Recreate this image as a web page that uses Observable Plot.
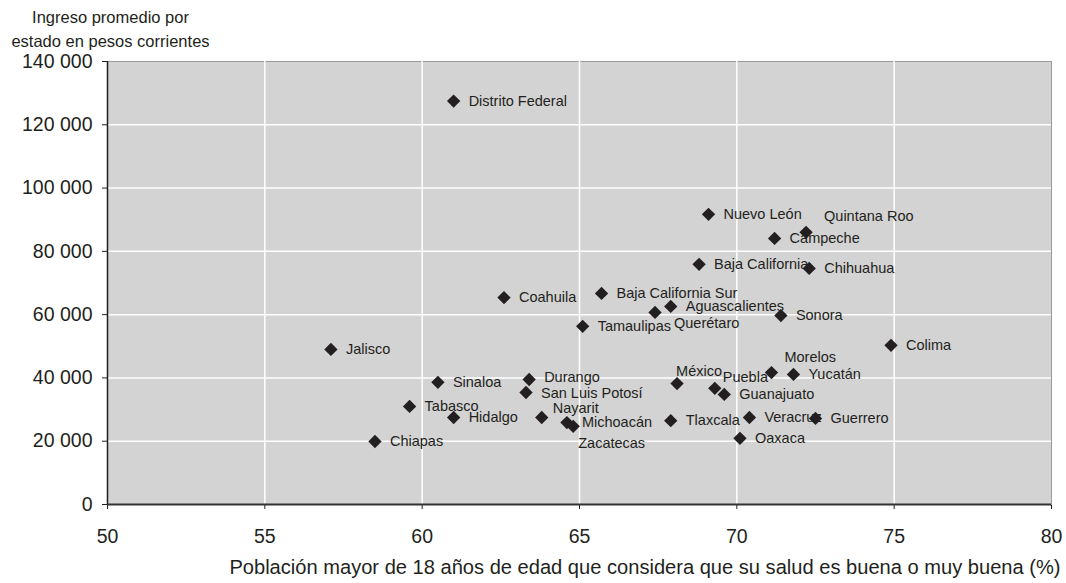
<!DOCTYPE html>
<html>
<head>
<meta charset="utf-8">
<script src="https://cdn.jsdelivr.net/npm/d3@7"></script>
<script src="https://cdn.jsdelivr.net/npm/@observablehq/plot@0.6"></script>
<style>
  html, body { margin: 0; padding: 0; background: white; }
</style>
</head>
<body>
<div id="chart"></div>
<script>
const states = ["Distrito Federal","Nuevo León","Quintana Roo","Campeche","Baja California","Chihuahua","Baja California Sur","Coahuila","Aguascalientes","Querétaro","Sonora","Tamaulipas","Jalisco","Colima","Morelos","Yucatán","México","Puebla","Guanajuato","Veracruz","Guerrero","Tlaxcala","Oaxaca","Sinaloa","Durango","San Luis Potosí","Tabasco","Hidalgo","Nayarit","Michoacán","Zacatecas","Chiapas"];
const salud = [61.0,69.1,72.2,71.2,68.8,72.3,65.7,62.6,67.9,67.4,71.4,65.1,57.1,74.9,71.1,71.8,68.1,69.3,69.6,70.4,72.5,67.9,70.1,60.5,63.4,63.3,59.6,61.0,63.8,64.6,64.8,58.5];
const ingreso = [127500,91700,86000,84100,75900,74600,66700,65400,62600,60700,59700,56300,49000,50300,41700,41100,38200,36700,34800,27500,27200,26500,20900,38600,39500,35400,31000,27500,27500,25900,24700,19900];
const xTicks = [50,55,60,65,70,75,80];
const yTicks = [0,20000,40000,60000,80000,100000,120000,140000];
const yTitle = "Ingreso promedio por\nestado en pesos corrientes";
const xTitle = "Población mayor de 18 años de edad que considera que su salud es buena o muy buena (%)";

// label placement exceptions (pixel offsets from the point)
const labelOffsets = {
  "Quintana Roo": [18, -16],
  "Querétaro": [19, 11],
  "Morelos": [13, -15],
  "México": [-1, -12],
  "Puebla": [8, -11],
  "Zacatecas": [5, 17],
  "Nayarit": [11, -9],
  "Durango": [15, -2],
  "San Luis Potosí": [15, 1]
};

const data = states.map((s, i) => ({state: s, x: salud[i], y: ingreso[i]}));
const fmt = d3.formatLocale({decimal: ",", thousands: " ", grouping: [3], currency: ["", ""]}).format(",");
const ink = "#231f20";
const labelSize = 14.5;

const labelMarks = [
  Plot.text(data.filter(d => !(d.state in labelOffsets)), {
    x: "x", y: "y", text: "state", textAnchor: "start", dx: 15, fontSize: labelSize, fill: ink
  }),
  ...Object.entries(labelOffsets).map(([name, [dx, dy]]) =>
    Plot.text(data.filter(d => d.state === name), {
      x: "x", y: "y", text: "state", textAnchor: "start", dx, dy, fontSize: labelSize, fill: ink
    }))
];

const chart = Plot.plot({
  width: 1066,
  height: 583,
  marginLeft: 107,
  marginRight: 15,
  marginTop: 61,
  marginBottom: 79,
  style: {fontFamily: "'Liberation Sans', Arial, sans-serif", fontSize: "19.5px", color: ink, background: "white"},
  x: {domain: [50, 80], ticks: xTicks, tickSize: 5, tickPadding: 20, label: null},
  y: {domain: [0, 140000], ticks: yTicks, tickSize: 5, tickPadding: 10, tickFormat: fmt, label: null},
  marks: [
    Plot.frame({fill: "#d3d3d3", stroke: "#9a9a9a"}),
    Plot.ruleX(xTicks.slice(1, -1), {stroke: "white", strokeWidth: 1.5}),
    Plot.ruleY(yTicks.slice(1, -1), {stroke: "white", strokeWidth: 1.5}),
    Plot.ruleX([50], {stroke: ink, strokeWidth: 1.5}),
    Plot.ruleY([0], {stroke: "#333", strokeWidth: 2}),
    Plot.dot(data, {x: "x", y: "y", symbol: "diamond2", r: 6, fill: ink, stroke: null}),
    ...labelMarks,
    Plot.text([yTitle], {frameAnchor: "top-left", dx: 3, dy: -34, textAnchor: "middle", lineAnchor: "middle", fontSize: 16.5, lineHeight: 1.45, fill: ink}),
    Plot.text([xTitle], {frameAnchor: "bottom-right", dx: 9, dy: 63, textAnchor: "end", lineAnchor: "middle", fontSize: 20.1, fill: ink})
  ]
});
document.getElementById("chart").appendChild(chart);
</script>
</body>
</html>
